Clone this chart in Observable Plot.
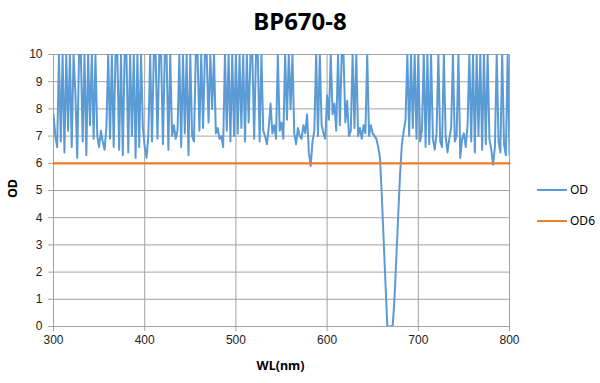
<!DOCTYPE html>
<html>
<head>
<meta charset="utf-8">
<script src="https://cdn.jsdelivr.net/npm/d3@7"></script>
<script src="https://cdn.jsdelivr.net/npm/@observablehq/plot@0.6"></script>
<style>
  html, body { margin: 0; padding: 0; background: #fff; }
  #wrap { position: relative; width: 600px; height: 383px; font-family: "Liberation Sans", Arial, sans-serif; }
  #wrap svg { position: absolute; left: 0; top: 0; }
  .title { position: absolute; left: 0; width: 600px; top: 4px; text-align: center; font: bold 24px "Noto Sans", "Open Sans", sans-serif; color: #000; }
  .xlab { position: absolute; left: 52px; width: 457px; top: 357px; text-align: center; font: bold 12.5px "Noto Sans", sans-serif; color: #000; }
  .ylab { position: absolute; left: -8px; top: 180px; width: 40px; text-align: center; transform: rotate(-90deg); font: bold 12.5px "Noto Sans", sans-serif; color: #000; }
  .leg { position: absolute; left: 537px; font: 12px "Noto Sans", sans-serif; color: #000; display: flex; align-items: center; }
  .leg span.sw { display: inline-block; width: 30px; height: 2px; margin-right: 3px; }
</style>
</head>
<body>
<div id="wrap"></div>
<script>
const chartTitle = "BP670-8";
const xLabel = "WL(nm)";
const yLabel = "OD";
const seriesNames = ["OD", "OD6"];
const seriesColors = ["#5B9BD5", "#ED7D31"];
const xTicks = [300, 400, 500, 600, 700, 800];
const yTicks = [0, 1, 2, 3, 4, 5, 6, 7, 8, 9, 10];
const od6Level = 6;
const od6Range = [300, 800];

const wavelengths = [
300,302,304,306,308,310,312,314,316,318,320,322,324,326,328,330,332,334,336,338,340,342,344,346,348,
350,352,354,356,358,360,362,364,366,368,370,372,374,376,378,380,382,384,386,388,390,392,394,396,398,
400,402,404,406,408,410,412,414,416,418,420,422,424,426,428,430,432,434,436,438,440,442,444,446,448,
450,452,454,456,458,460,462,464,466,468,470,472,474,476,478,480,482,484,486,488,490,492,494,496,498,
500,502,504,506,508,510,512,514,516,518,520,522,524,526,528,530,532,534,536,538,540,542,544,546,548,
550,552,554,556,558,560,562,564,566,568,570,572,574,576,578,580,582,584,586,588,590,592,594,596,598,
600,602,604,606,608,610,612,614,616,618,620,622,624,626,628,630,632,634,636,638,640,642,644,646,648,
650,652,654,656,658,660,662,664,666,668,670,672,674,676,678,680,682,684,686,688,690,692,694,696,698,
700,702,704,706,708,710,712,714,716,718,720,722,724,726,728,730,732,734,736,738,740,742,744,746,748,
750,752,754,756,758,760,762,764,766,768,770,772,774,776,778,780,782,784,786,788,790,792,794,796,798,
800];

const odValues = [
7.8,7.0,6.6,10,6.8,10,6.4,10,7.2,10,6.6,10,8.6,6.2,10,10,6.8,10,6.3,10,7.4,10,6.9,10,7.0,
6.6,7.2,6.8,6.5,7.3,10,6.9,10,6.6,10,10,6.5,10,6.3,10,10,6.4,10,7.0,10,6.2,10,6.6,10,7.3,
6.6,6.2,7.0,10,6.8,10,10,6.9,10,10,6.7,10,10,6.5,10,7.0,7.4,6.9,7.2,10,6.6,10,7.1,10,6.3,
10,7.0,6.8,10,10,7.2,10,7.3,10,10,7.5,10,8.0,10,7.1,7.3,6.9,7.0,6.6,10,7.2,10,6.8,10,7.0,
10,7.1,10,7.3,10,6.8,10,7.5,10,10,6.9,10,10,6.8,10,7.2,7.0,6.7,7.3,8.2,7.1,7.4,6.9,10,7.2,
7.5,6.9,10,7.6,10,8.0,10,7.1,6.7,7.3,7.0,6.9,7.4,7.1,7.8,6.4,5.9,6.8,7.2,10,7.0,10,7.4,7.1,6.9,
8.5,7.6,10,7.8,8.2,7.2,10,7.4,10,10,7.5,8.3,7.0,7.2,10,7.3,10,7.0,7.3,6.9,7.4,7.1,10,7.0,7.4,
7.1,7.0,6.9,6.6,6.2,4.8,3.2,1.6,0,0,0,0.05,1.1,2.6,4.1,5.6,6.7,7.2,7.6,10,7.0,10,7.3,10,6.9,
10,6.8,7.2,10,6.6,10,6.7,10,6.9,6.5,7.1,10,6.8,6.6,10,7.0,6.4,6.9,7.3,10,6.8,7.0,10,6.2,6.9,
7.1,6.6,7.4,10,6.8,10,6.4,10,7.0,10,6.5,10,6.7,10,6.9,6.5,5.95,6.6,10,6.8,6.4,10,6.7,6.3,10,
6.3];

const odData = wavelengths.map((w, i) => ({wl: w, od: odValues[i]}));
const od6Data = od6Range.map(w => ({wl: w, od: od6Level}));

const gridColor = "#a3a3a3";
const chart = Plot.plot({
  width: 600,
  height: 383,
  marginLeft: 53,
  marginRight: 91,
  marginTop: 54,
  marginBottom: 57,
  style: {fontFamily: "'Liberation Sans', Arial, sans-serif", fontSize: "12px", color: "#222", background: "#fff"},
  x: {domain: [300, 800], ticks: xTicks, label: null, tickSize: 5, tickPadding: 4},
  y: {domain: [0, 10], ticks: yTicks, label: null, tickSize: 5, tickPadding: 6},
  marks: [
    Plot.gridX(xTicks, {stroke: gridColor, strokeOpacity: 1, strokeWidth: 1}),
    Plot.gridY(yTicks, {stroke: gridColor, strokeOpacity: 1, strokeWidth: 1}),
    Plot.axisX({ticks: xTicks, tickSize: 5, tickPadding: 4, stroke: gridColor, fontSize: 12, fill: "#222"}),
    Plot.axisY({ticks: yTicks, tickSize: 5, tickPadding: 6, stroke: gridColor, fontSize: 12, fill: "#222"}),
    Plot.line(odData, {x: "wl", y: "od", stroke: seriesColors[0], strokeWidth: 2, clip: true, curve: "linear"}),
    Plot.line(od6Data, {x: "wl", y: "od", stroke: seriesColors[1], strokeWidth: 2.2})
  ]
});

const wrap = document.getElementById("wrap");
wrap.appendChild(chart);

const t = document.createElement("div"); t.className = "title"; t.textContent = chartTitle; wrap.appendChild(t);
const xl = document.createElement("div"); xl.className = "xlab"; xl.textContent = xLabel; wrap.appendChild(xl);
const yl = document.createElement("div"); yl.className = "ylab"; yl.textContent = yLabel; wrap.appendChild(yl);
const legTops = [181, 212];
seriesNames.forEach((name, i) => {
  const d = document.createElement("div");
  d.className = "leg";
  d.style.top = legTops[i] + "px";
  const sw = document.createElement("span");
  sw.className = "sw";
  sw.style.background = seriesColors[i];
  d.appendChild(sw);
  d.appendChild(document.createTextNode(name));
  wrap.appendChild(d);
});
</script>
</body>
</html>
